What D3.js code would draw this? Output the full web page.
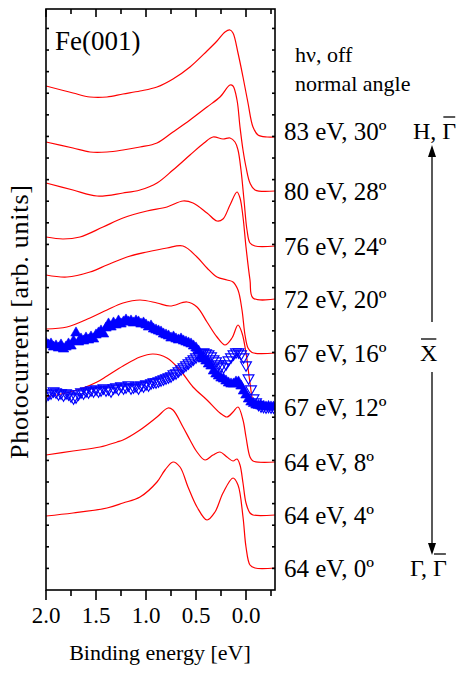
<!DOCTYPE html>
<html>
<head>
<meta charset="utf-8">
<script src="https://cdn.jsdelivr.net/npm/d3@7"></script>
<style>
  body { margin: 0; background: #fff; }
  svg { display: block; }
  text { font-family: "Liberation Serif", "Times New Roman", serif; fill: #000; white-space: pre; }
</style>
</head>
<body>
<svg id="chart" width="456" height="673"></svg>
<script>
// ---- Spectra: [binding energy (eV), intensity above own baseline] ----
const spec83_30 = [[2.0,5.1],[1.73,4.4],[1.56,4.0],[1.39,4.0],[1.23,4.3],[1.06,4.6],[0.89,5.0],[0.73,5.8],[0.56,7.0],[0.39,8.6],[0.29,9.6],[0.21,10.5],[0.16,10.7],[0.13,10.4],[0.08,8.4],[0.03,6.0],[-0.02,3.4],[-0.07,1.0],[-0.12,0.2],[-0.21,0.0],[-0.29,0.0]];
const spec80_28 = [[2.0,4.9],[1.73,4.3],[1.56,3.9],[1.39,3.9],[1.23,4.1],[1.06,4.4],[0.89,4.8],[0.73,5.9],[0.56,7.1],[0.39,8.4],[0.26,9.4],[0.16,10.6],[0.13,10.5],[0.09,9.1],[0.06,6.4],[0.03,4.1],[0.0,2.4],[-0.04,0.8],[-0.09,0.1],[-0.29,0.0]];
const spec76_24 = [[2.0,6.3],[1.73,5.6],[1.49,5.0],[1.23,5.3],[1.06,5.6],[0.89,6.3],[0.73,7.6],[0.56,9.1],[0.42,10.3],[0.33,10.9],[0.23,10.7],[0.16,10.8],[0.11,10.4],[0.08,9.6],[0.05,7.6],[0.02,4.6],[-0.01,1.6],[-0.04,0.3],[-0.09,0.0],[-0.29,0.0]];
const spec72_20 = [[2.0,6.2],[1.83,6.0],[1.66,6.2],[1.43,7.2],[1.23,8.1],[0.99,8.8],[0.79,9.2],[0.63,9.8],[0.53,9.6],[0.39,8.6],[0.29,7.8],[0.23,8.0],[0.16,9.4],[0.09,10.7],[0.06,10.1],[0.03,8.2],[0.0,5.2],[-0.04,1.9],[-0.07,0.1],[-0.29,0.0]];
const spec67_16 = [[2.0,7.8],[1.79,7.6],[1.56,8.1],[1.39,8.8],[1.19,9.6],[0.99,10.1],[0.79,10.5],[0.63,10.7],[0.49,9.6],[0.39,8.5],[0.29,7.6],[0.19,7.3],[0.13,7.1],[0.08,6.3],[0.04,4.3],[0.01,1.8],[-0.02,0.5],[-0.06,0.05],[-0.29,0.0]];
const spec67_12 = [[2.0,7.8],[1.79,8.0],[1.56,8.9],[1.39,9.7],[1.23,10.4],[1.06,10.7],[0.89,10.4],[0.76,10.1],[0.59,10.5],[0.49,10.0],[0.39,8.5],[0.29,7.0],[0.21,6.2],[0.14,6.9],[0.08,8.2],[0.04,7.4],[0.0,5.4],[-0.04,2.4],[-0.07,0.7],[-0.12,0.05],[-0.29,0.0]];
const spec64_8  = [[2.0,6.5],[1.8,6.9],[1.63,7.4],[1.49,8.0],[1.39,8.6],[1.23,9.6],[1.06,10.5],[0.93,10.8],[0.79,10.4],[0.66,9.2],[0.53,7.5],[0.39,6.2],[0.26,4.9],[0.19,4.5],[0.13,5.0],[0.08,5.5],[0.03,4.2],[0.0,2.5],[-0.04,0.5],[-0.07,0.1],[-0.29,0.0]];
const spec64_4  = [[2.0,6.0],[1.73,6.4],[1.46,6.8],[1.29,7.3],[1.23,7.5],[1.06,8.5],[0.89,9.8],[0.78,10.7],[0.73,10.5],[0.63,8.8],[0.56,7.5],[0.49,6.3],[0.41,5.5],[0.33,6.0],[0.26,6.3],[0.19,5.8],[0.13,5.4],[0.09,5.6],[0.06,5.0],[0.03,3.2],[0.0,1.2],[-0.04,0.2],[-0.07,0.0],[-0.29,0.0]];
const spec64_0  = [[2.0,5.2],[1.73,5.5],[1.39,6.0],[1.23,6.5],[1.06,7.1],[0.89,8.6],[0.81,9.8],[0.73,10.6],[0.66,10.1],[0.58,8.1],[0.49,6.1],[0.39,4.8],[0.31,5.6],[0.23,7.5],[0.13,9.0],[0.08,8.3],[0.03,5.1],[0.0,2.1],[-0.04,0.3],[-0.09,0.0],[-0.29,0.0]];

const spectra = [spec83_30, spec80_28, spec76_24, spec72_20, spec67_16, spec67_12, spec64_8, spec64_4, spec64_0];
const spectrumLabels = ["83 eV, 30º", "80 eV, 28º", "76 eV, 24º", "72 eV, 20º", "67 eV, 16º", "67 eV, 12º", "64 eV, 8º", "64 eV, 4º", "64 eV, 0º"];
const baselines = [45.3, 39.9, 34.4, 29.1, 23.7, 18.3, 12.8, 7.5, 2.2];

// ---- Triangle-marker data sets, on a 0.025 eV grid from 2.0 eV down ----
const gridStart = 2.0, gridStep = 0.025;
const filledValues = [6.4,6.2,6.3,6.0,6.1,5.9,6.2,5.8,6.0,6.3,6.1,6.6,7.4,6.5,6.8,6.6,6.9,6.7,7.0,6.8,
  7.2,7.4,7.6,7.3,7.9,8.3,8.0,8.4,8.2,8.6,8.3,8.5,8.7,8.5,8.6,8.4,8.6,8.5,8.3,8.4,
  8.2,8.0,8.1,7.8,7.7,7.6,7.5,7.3,7.2,7.1,6.9,7.0,6.8,6.7,6.8,6.6,6.5,6.4,6.3,6.1,
  5.9,5.6,5.1,4.8,4.6,4.3,4.1,3.6,3.3,3.1,2.9,2.8,2.6,2.4,2.3,2.3,2.5,2.5,2.1,1.6,
  1.2,0.8,0.5,0.35,0.2,0.15,0.1,0.05,0.0,0.05,0.0,0.0];
const openValues = [1.1,1.3,1.4,1.6,1.5,1.3,1.4,1.2,1.4,1.3,1.1,0.9,1.0,1.3,1.5,1.4,1.6,1.5,1.7,1.6,
  1.8,1.6,1.7,1.9,1.7,1.8,1.6,1.9,2.0,1.8,2.1,1.9,2.0,2.2,1.9,2.0,2.1,1.9,2.2,2.1,
  2.3,2.2,2.4,2.5,2.5,2.6,2.7,2.8,2.9,3.0,3.1,3.3,3.4,3.6,3.8,4.0,4.2,4.4,4.6,4.8,
  5.0,5.2,5.4,5.5,5.4,5.3,5.1,4.8,4.6,4.3,4.1,4.0,4.3,4.7,5.0,5.3,5.5,5.5,5.3,5.0,
  4.2,2.9,1.8,0.9,0.5,0.25,0.1,0.05,0.0,0.05,0.0,0.0];
const markerBaseline = 18.3;

// ---- Axis ticks ----
const majorTicks = [2.0, 1.5, 1.0, 0.5, 0.0];
const minorTicks = [1.75, 1.25, 0.75, 0.25, -0.25];
const yTickCount = 26;

// ---- Layout ----
const svg = d3.select("#chart");
const plot = { left: 46, right: 275, top: 9, bottom: 590 };

const x = d3.scaleLinear().domain([2.0, -0.29]).range([plot.left, plot.right]);
const y = d3.scaleLinear().domain([0, 58.1]).range([plot.bottom, plot.top]);

svg.append("defs").append("clipPath").attr("id", "plotClip")
  .append("rect").attr("x", plot.left).attr("y", plot.top)
  .attr("width", plot.right - plot.left).attr("height", plot.bottom - plot.top);

const g = svg.append("g").attr("clip-path", "url(#plotClip)");

// Red spectra, each shifted up by its baseline
const line = d3.line().curve(d3.curveCatmullRom.alpha(0.5));
spectra.forEach((s, i) => {
  g.append("path")
    .attr("d", line(s.map(d => [x(d[0]), y(baselines[i] + d[1])])))
    .attr("fill", "none").attr("stroke", "#ff0000").attr("stroke-width", 1.2);
});

// Blue triangle markers
const tri = d3.symbol().type(d3.symbolTriangle);
filledValues.forEach((v, i) => {
  const e = gridStart - i * gridStep;
  g.append("path").attr("d", tri.size(48)())
    .attr("transform", `translate(${x(e)},${y(markerBaseline + v)})`)
    .attr("fill", "#0000ff").attr("stroke", "#0000ff").attr("stroke-width", 0.6);
});
openValues.forEach((v, i) => {
  const e = gridStart - i * gridStep;
  g.append("path").attr("d", tri.size(52)())
    .attr("transform", `translate(${x(e)},${y(markerBaseline + v)}) rotate(180)`)
    .attr("fill", "none").attr("stroke", "#0000ff").attr("stroke-width", 1.1);
});

// Frame and ticks
svg.append("rect").attr("x", plot.left).attr("y", plot.top)
  .attr("width", plot.right - plot.left).attr("height", plot.bottom - plot.top)
  .attr("fill", "none").attr("stroke", "#000").attr("stroke-width", 1.6);

const ticks = svg.append("g").attr("stroke", "#000").attr("stroke-width", 1.6);
majorTicks.forEach(t => {
  ticks.append("line").attr("x1", x(t)).attr("x2", x(t)).attr("y1", plot.bottom).attr("y2", plot.bottom + 10);
  ticks.append("line").attr("x1", x(t)).attr("x2", x(t)).attr("y1", plot.top).attr("y2", plot.top + 8);
});
minorTicks.forEach(t => {
  ticks.append("line").attr("x1", x(t)).attr("x2", x(t)).attr("y1", plot.bottom).attr("y2", plot.bottom + 6);
  ticks.append("line").attr("x1", x(t)).attr("x2", x(t)).attr("y1", plot.top).attr("y2", plot.top + 5);
});
const yStep = 58.1 / 26.9;
d3.range(1, yTickCount + 1).forEach(k => {
  const py = y(k * yStep);
  ticks.append("line").attr("x1", plot.left).attr("x2", plot.left + 3).attr("y1", py).attr("y2", py);
  ticks.append("line").attr("x1", plot.right).attr("x2", plot.right - 3).attr("y1", py).attr("y2", py);
});

// Tick labels
svg.append("g").selectAll("text").data(majorTicks).join("text")
  .attr("x", d => x(d)).attr("y", 623).attr("text-anchor", "middle")
  .style("font-size", "23px").text(d => d3.format(".1f")(d));

// Axis titles
svg.append("text").attr("x", 160).attr("y", 660).attr("text-anchor", "middle")
  .style("font-size", "22px").text("Binding energy [eV]");
svg.append("text").attr("transform", "translate(28,322) rotate(-90)")
  .attr("text-anchor", "middle").style("font-size", "26px")
  .attr("textLength", 274).attr("lengthAdjust", "spacing")
  .text("Photocurrent [arb. units]");

// Sample name
svg.append("text").attr("x", 55).attr("y", 50).style("font-size", "27px").text("Fe(001)");

// Right-hand annotations
svg.append("text").attr("x", 295).attr("y", 62).style("font-size", "22px").text("hν, off");
svg.append("text").attr("x", 295).attr("y", 91).style("font-size", "22px").text("normal angle");

spectrumLabels.forEach((lab, i) => {
  const py = y(baselines[i]) - (i === 0 ? 6 : 0);
  svg.append("text").attr("x", 284).attr("y", py).attr("dy", "0.34em")
    .style("font-size", "25px").text(lab);
});

// High-symmetry point labels with bars over the surface points
const kLabels = [
  { parts: ["H, ", "Γ"], bar: [false, true], x: 413, at: baselines[0], shift: -6 },
  { parts: ["X"], bar: [true], x: 420, at: baselines[4], shift: 0 },
  { parts: ["Γ, ", "Γ"], bar: [false, true], x: 410, at: baselines[8], shift: 0 }
];
kLabels.forEach(k => {
  let cx = k.x;
  const py = y(k.at) + k.shift;
  k.parts.forEach((p, j) => {
    const t = svg.append("text").attr("x", cx).attr("y", py).attr("dy", "0.34em")
      .style("font-size", "24px").text(p);
    const w = t.node().getComputedTextLength();
    if (k.bar[j]) {
      svg.append("line").attr("x1", cx + 1).attr("x2", cx + w - 1)
        .attr("y1", py - 14).attr("y2", py - 14)
        .attr("stroke", "#000").attr("stroke-width", 1.3);
    }
    cx += w;
  });
});

// Vertical arrow from H down to Gamma, broken around X
const ax = 432;
const topTip = y(baselines[0]) + 8, midTop = y(baselines[4]) - 31, midBot = y(baselines[4]) + 19, botTip = y(baselines[8]) - 13;
svg.append("line").attr("x1", ax).attr("x2", ax).attr("y1", topTip + 8).attr("y2", midTop).attr("stroke", "#000").attr("stroke-width", 1.3);
svg.append("line").attr("x1", ax).attr("x2", ax).attr("y1", midBot).attr("y2", botTip - 8).attr("stroke", "#000").attr("stroke-width", 1.3);
svg.append("path").attr("d", `M${ax},${topTip} L${ax - 4},${topTip + 12} L${ax + 4},${topTip + 12} Z`).attr("fill", "#000");
svg.append("path").attr("d", `M${ax},${botTip} L${ax - 4},${botTip - 12} L${ax + 4},${botTip - 12} Z`).attr("fill", "#000");
</script>
</body>
</html>
